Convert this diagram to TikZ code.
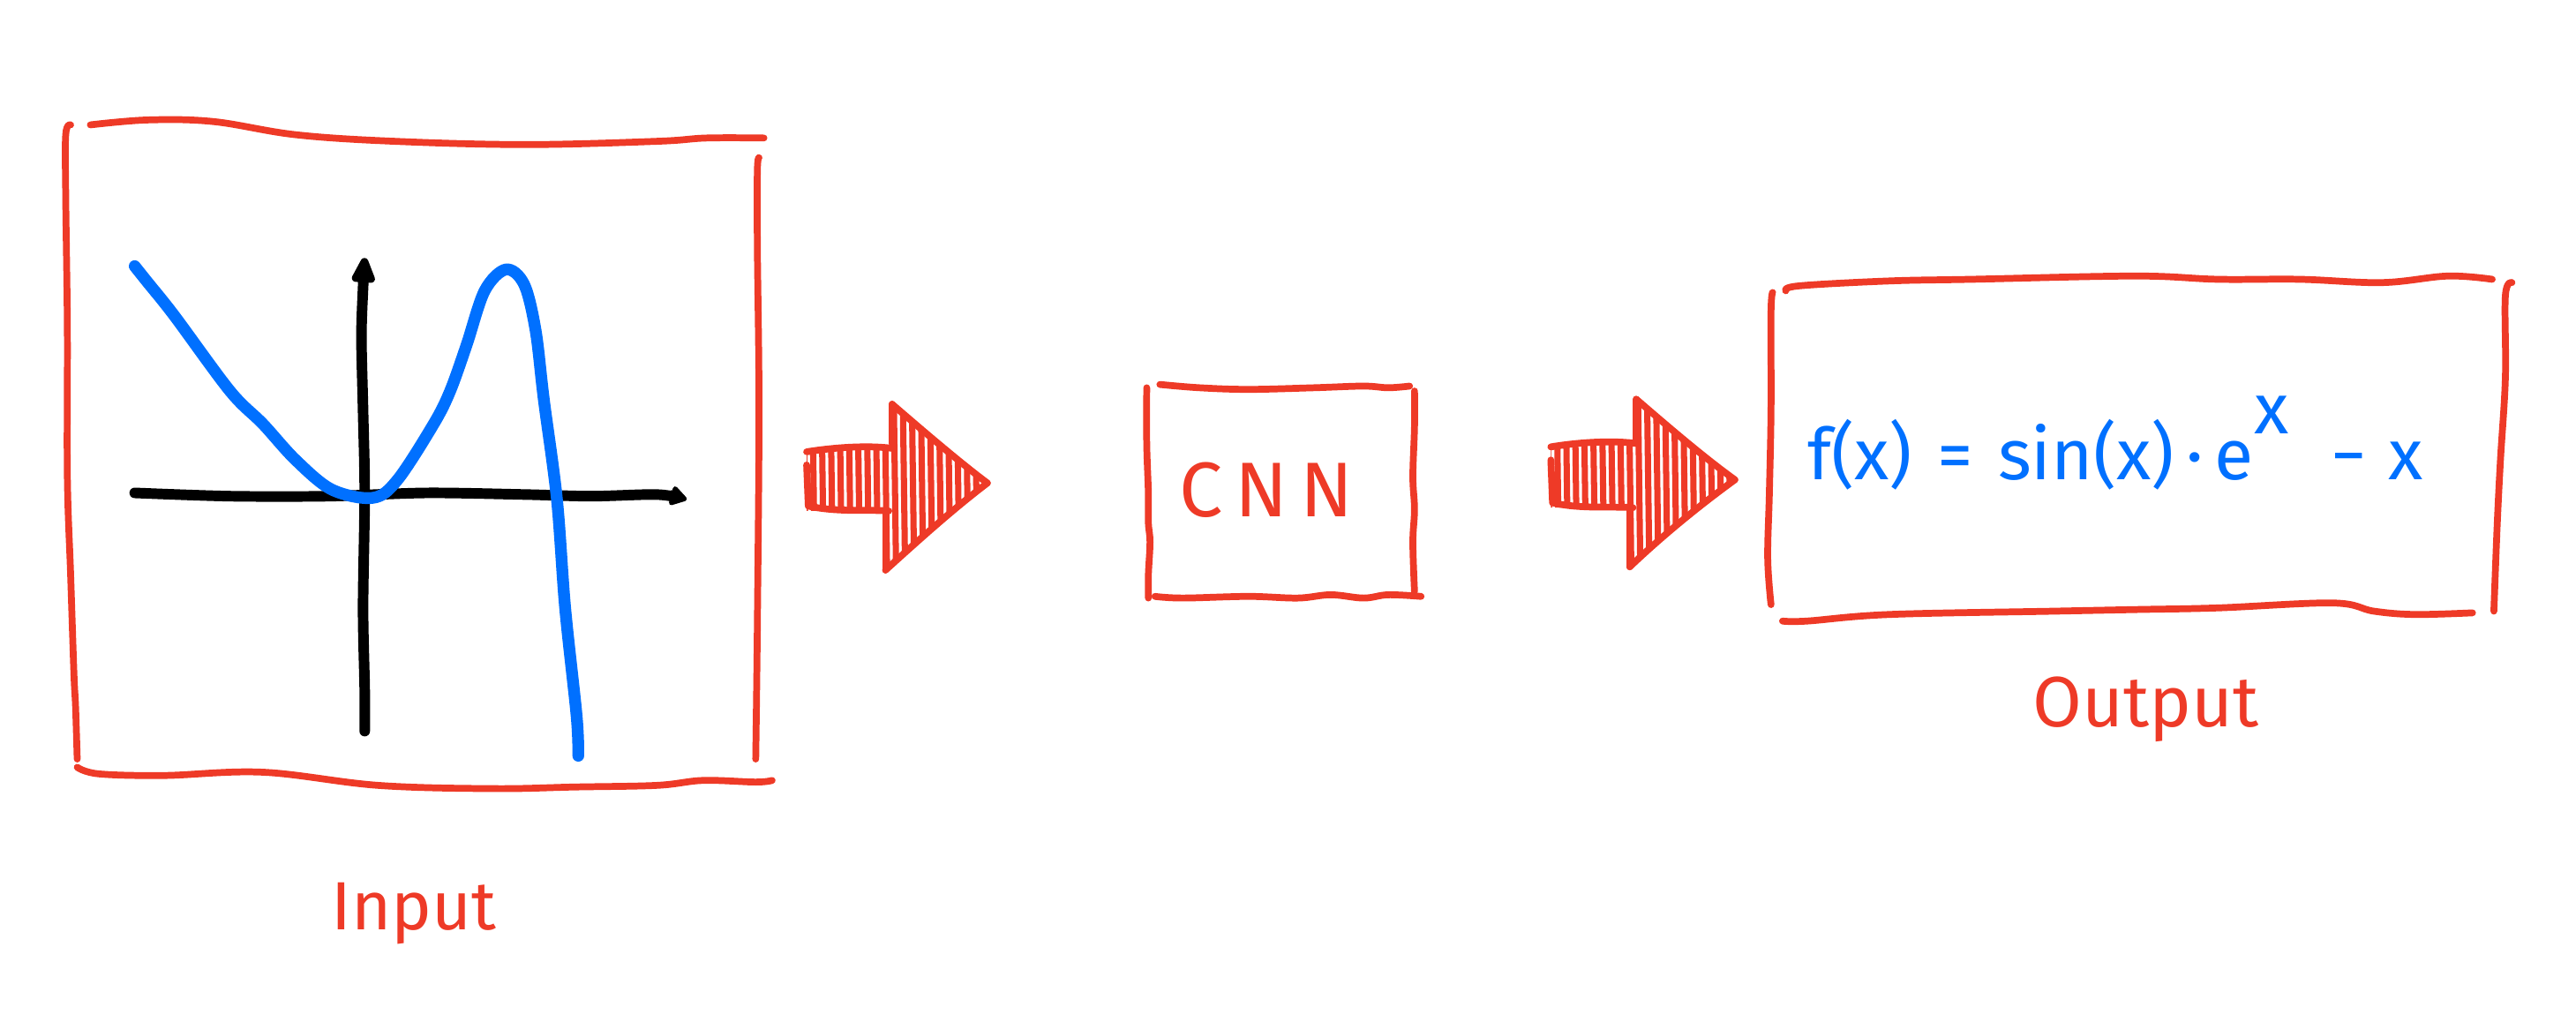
\documentclass[tikz,border=0pt]{standalone}
\usepackage{fontspec}
\setmainfont{Fira Sans}
\usetikzlibrary{arrows.meta}
\definecolor{myred}{HTML}{EE3A27}
\definecolor{myblue}{HTML}{0070FF}
\tikzset{
  redline/.style={draw=myred, line width=2.2pt, line cap=round, line join=round},
  blueline/.style={draw=myblue, line width=3.8pt, line cap=round, line join=round},
  axisline/.style={draw=black, line width=3.4pt, line cap=round, line join=round},
  hatchline/.style={draw=myred, line width=2.0pt, line cap=round},
  redtext/.style={text=myred, inner sep=0pt},
}
\begin{document}
\begin{tikzpicture}[x=0.01862cm, y=-0.01862cm]
\useasboundingbox (0,0) rectangle (1568,622);

% ---------- Input box ----------
\draw[redline] plot[smooth, tension=0.6] coordinates {(43,76) (40,82) (40,120) (41,200) (41,290) (43,350) (45,410) (46,430) (47,462)};
\draw[redline] plot[smooth, tension=0.6] coordinates {(55,76) (90,73) (130,74) (180,82) (240,86) (320,88) (400,86) (430,84) (465,84)};
\draw[redline] plot[smooth, tension=0.6] coordinates {(462,96) (461,104) (461,150) (462,250) (461,380) (460,462)};
\draw[redline] plot[smooth, tension=0.6] coordinates {(47,467) (60,471) (100,472) (160,470) (230,478) (300,480) (350,479) (400,478) (428,475) (460,476) (470,475)};

% axes
\draw[axisline, -{Triangle[length=10pt,width=8pt,round]}] plot[smooth, tension=0.5] coordinates {(222,445) (222,420) (221,370) (222,300) (221,250) (220,205) (221,175) (222,157)};
\draw[axisline, -{Triangle[length=6pt,width=7pt,round]}] plot[smooth, tension=0.5] coordinates {(82,300) (140,302) (200,302) (260,300) (320,301) (360,302) (400,301) (418,304)};

% blue curve
\draw[blueline] plot[smooth, tension=0.55] coordinates {(82,162) (90,172) (106,192) (140,238) (160,258) (180,280) (202,298) (227,303) (242,292) (264,258) (274,238) (284,210) (295,177) (308,164) (319,173) (326,201) (331,243) (339,304) (344,370) (351,436) (352,460)};

% ---------- Arrow 1 ----------
\begin{scope}
\clip (491,274) -- (544,273) -- (543,246) -- (601,294) -- (539,347) -- (541,311) -- (491,311) -- cycle;
\foreach \x in {489,494.5,...,606} \draw[hatchline] (\x,240) -- (\x+1.5,352);
\end{scope}
\draw[redline] (491,275) .. controls (510,272) and (530,271) .. (544,273);
\draw[redline] (491,283) -- (492,308) .. controls (510,312) and (530,310) .. (541,311);
\draw[redline] (543,246) -- (543,270);
\draw[redline] (543,246) .. controls (565,265) and (585,282) .. (601,294);
\draw[redline] (539,347) .. controls (560,328) and (580,310) .. (601,294);
\draw[redline] (539,347) -- (539,312);

% ---------- CNN box ----------
\draw[redline] plot[smooth, tension=0.6] coordinates {(698,236) (698,270) (699,300) (699,318) (700,330) (699,350) (699,364)};
\draw[redline] plot[smooth, tension=0.6] coordinates {(706,234) (730,236) (760,237) (800,236) (830,235) (845,236) (858,235)};
\draw[redline] plot[smooth, tension=0.6] coordinates {(861,238) (861,260) (860,290) (861,310) (860,330) (861,360)};
\draw[redline] plot[smooth, tension=0.6] coordinates {(703,363) (720,364) (760,363) (790,364) (810,362) (830,364) (845,362) (865,363)};
\node[redtext, font=\fontsize{25}{28}\selectfont\addfontfeature{LetterSpace=16}] (cnn) at (771,298) {CNN};

% ---------- Arrow 2 ----------
\begin{scope}
\clip (944,271) -- (997,270) -- (996,243) -- (1056,292) -- (992,345) -- (994,309) -- (944,309) -- cycle;
\foreach \x in {942,947.5,...,1060} \draw[hatchline] (\x,238) -- (\x+1.5,350);
\end{scope}
\draw[redline] (944,272) .. controls (962,269) and (982,268) .. (997,270);
\draw[redline] (944,280) -- (945,306) .. controls (962,310) and (982,308) .. (994,309);
\draw[redline] (996,243) -- (996,268);
\draw[redline] (996,243) .. controls (1018,262) and (1038,279) .. (1056,292);
\draw[redline] (992,345) .. controls (1012,326) and (1034,308) .. (1056,292);
\draw[redline] (992,345) -- (992,310);

% ---------- Output box ----------
\draw[redline] plot[smooth, tension=0.6] coordinates {(1079,178) (1078,190) (1078,250) (1077,300) (1076,340) (1078,368)};
\draw[redline] plot[smooth, tension=0.6] coordinates {(1087,177) (1095,174) (1150,171) (1200,170) (1300,168) (1350,170) (1400,170) (1450,172) (1490,168) (1517,170)};
\draw[redline] plot[smooth, tension=0.6] coordinates {(1529,172) (1525,180) (1525,230) (1522,280) (1520,320) (1518,372)};
\draw[redline] plot[smooth, tension=0.6] coordinates {(1085,378) (1100,378) (1150,374) (1250,372) (1300,371) (1350,370) (1420,367) (1445,372) (1470,374) (1505,373)};
\node[text=myblue, inner sep=0pt, anchor=base west, font=\fontsize{23}{28}\selectfont] (formula) at (1100,292) {f(x)\hspace{0.35em}=\hspace{0.35em}sin(x)\,·\,e\raisebox{0.65em}{x}\hspace{0.6em}−\hspace{0.3em}x};

% ---------- labels ----------
\node[redtext, font=\fontsize{23}{28}\selectfont] (outlabel) at (1306,432) {Output};
\node[redtext, font=\fontsize{22}{28}\selectfont] (inlabel) at (252,556) {Input};
\end{tikzpicture}
\end{document}
